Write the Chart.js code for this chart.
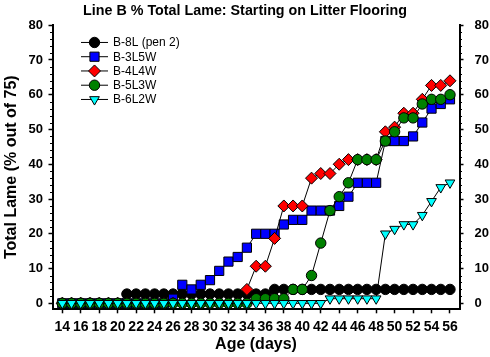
<!DOCTYPE html>
<html>
<head>
<meta charset="utf-8">
<script src="https://cdn.jsdelivr.net/npm/chart.js@4.4.1/dist/chart.umd.min.js"></script>
<style>
  html, body { margin: 0; padding: 0; background: #fff; }
  #wrap { width: 490px; height: 357px; position: relative; }
</style>
</head>
<body>
<div id="wrap"><canvas id="lameChart"></canvas></div>
<script>
// age in days, one reading per day
const days = [14, 15, 16, 17, 18, 19, 20, 21, 22, 23, 24, 25, 26, 27, 28, 29, 30, 31, 32, 33, 34, 35,
  36, 37, 38, 39, 40, 41, 42, 43, 44, 45, 46, 47, 48, 49, 50, 51, 52, 53, 54, 55, 56];

const xTickLabels = [14, 16, 18, 20, 22, 24, 26, 28, 30, 32, 34, 36, 38, 40, 42, 44, 46, 48, 50, 52, 54, 56];
const yTickLabels = [0, 10, 20, 30, 40, 50, 60, 70, 80];

// % lame (out of 75 birds)
const b8L = [0, 0, 0, 0, 0, 0, 0,
  2.67, 2.67, 2.67, 2.67, 2.67, 2.67, 2.67, 2.67, 2.67, 2.67, 2.67, 2.67, 2.67, 2.67, 2.67, 2.67,
  4, 4, 4, 4, 4, 4, 4, 4, 4, 4, 4, 4, 4, 4, 4, 4, 4, 4, 4, 4];

const b3L5W = [0, 0, 0, 0, 0, 0, 0, 0, 0, 0, 0, 0,
  1.33, 5.33, 4, 5.33, 6.67, 9.33, 12, 13.33, 16, 20, 20, 20, 22.67, 24, 24, 26.67, 26.67, 26.67,
  28, 30.67, 34.67, 34.67, 34.67, 46.67, 46.67, 46.67, 48, 52, 56, 57.33, 58.67];

const b4L4W = [0, 0, 0, 0, 0, 0, 0, 0, 0, 0, 0, 0, 0, 0, 0, 0, 0, 0, 0, 0,
  4, 10.67, 10.67, 18.67, 28, 28, 28, 36, 37.33, 37.33, 40, 41.33, 41.33, 41.33, 41.33,
  49.33, 50.67, 54.67, 54.67, 58.67, 62.67, 62.67, 64];

const b5L3W = [0, 0, 0, 0, 0, 0, 0, 0, 0, 0, 0, 0, 0, 0, 0, 0, 0, 0, 0, 0, 0,
  1.33, 1.33, 1.33, 1.33, 4, 4, 8, 17.33, 26.67, 30.67, 34.67, 41.33, 41.33, 41.33,
  46.67, 49.33, 53.33, 53.33, 57.33, 58.67, 58.67, 60];

const b6L2W = [0, 0, 0, 0, 0, 0, 0, 0, 0, 0, 0, 0, 0, 0, 0, 0, 0, 0, 0, 0, 0, 0, 0, 0, 0, 0, 0, 0, 0,
  1.33, 1.33, 1.33, 1.33, 1.33, 1.33,
  20, 21.33, 22.67, 22.67, 25.33, 29.33, 33.33, 34.67];

const toPoints = (vals) => days.map((d, i) => ({ x: d, y: vals[i] }));

Chart.defaults.font.family = "'Liberation Sans', Arial, sans-serif";
Chart.defaults.color = "#000";

function series(label, vals, color, style, radius, order, rotation) {
  return {
    label: label,
    data: toPoints(vals),
    borderColor: "#000",
    borderWidth: 1,
    backgroundColor: color,
    pointBackgroundColor: color,
    pointBorderColor: "#000",
    pointBorderWidth: 1,
    pointStyle: style,
    pointRadius: radius,
    pointRotation: rotation || 0,
    pointHoverRadius: radius,
    tension: 0,
    clip: false,
    order: order
  };
}

/* minor ticks + inset legend */
const extrasPlugin = {
  id: "extras",
  afterDraw(chart) {
    const ctx = chart.ctx;
    const area = chart.chartArea;
    ctx.save();

    ctx.strokeStyle = "#000";
    ctx.lineWidth = 1;
    ["y", "y2"].forEach((id) => {
      const s = chart.scales[id];
      const x0 = id === "y" ? area.left : area.right;
      const dir = id === "y" ? -1 : 1;
      for (let v = 2; v < 80; v += 2) {
        if (v % 10 === 0) continue;
        const py = Math.round(s.getPixelForValue(v)) + 0.5;
        ctx.beginPath();
        ctx.moveTo(x0, py);
        ctx.lineTo(x0 + dir * 2.5, py);
        ctx.stroke();
      }
    });

    const lx = area.left + 28.5;
    const ly = area.top + 17.3;
    ctx.font = "12px 'Liberation Sans', Arial, sans-serif";
    ctx.textBaseline = "middle";
    ctx.textAlign = "left";
    chart.data.datasets.forEach((ds, i) => {
      const y = ly + i * 14.25;
      ctx.strokeStyle = "#000";
      ctx.lineWidth = 1;
      ctx.beginPath();
      ctx.moveTo(lx, y);
      ctx.lineTo(lx + 27, y);
      ctx.stroke();
      ctx.fillStyle = ds.pointBackgroundColor;
      ctx.strokeStyle = "#000";
      Chart.helpers.drawPoint(ctx, {
        pointStyle: ds.pointStyle,
        radius: ds.pointRadius,
        rotation: ds.pointRotation,
        borderWidth: 1
      }, lx + 13.5, y);
      ctx.fillStyle = "#000";
      ctx.fillText(ds.label, lx + 32, y + 0.5);
    });

    ctx.restore();
  }
};

const ctx = document.getElementById("lameChart").getContext("2d");

new Chart(ctx, {
  type: "line",
  data: {
    datasets: [
      series("B-8L (pen 2)", b8L, "#000000", "circle", 5.2, 5),
      series("B-3L5W", b3L5W, "#0000ff", "rect", 6.5, 4),
      series("B-4L4W", b4L4W, "#ff0000", "rectRot", 6, 3),
      series("B-5L3W", b5L3W, "#008000", "circle", 5.2, 2),
      series("B-6L2W", b6L2W, "#00ffff", "triangle", 5.6, 1, 180)
    ]
  },
  options: {
    responsive: true,
    maintainAspectRatio: false,
    animation: false,
    layout: { padding: 0 },
    plugins: {
      legend: { display: false },
      tooltip: { enabled: false },
      title: {
        display: true,
        text: "Line B % Total Lame: Starting on Litter Flooring",
        font: { size: 14.3, weight: "bold" },
        color: "#000",
        padding: { top: 2.5, bottom: 5.5 }
      }
    },
    scales: {
      x: {
        type: "linear",
        min: 12.94,
        max: 57.03,
        afterBuildTicks: (s) => { s.ticks = xTickLabels.map((v) => ({ value: v })); },
        afterFit: (s) => { s.height = 47.7; },
        grid: { drawOnChartArea: false, drawTicks: true, tickLength: 4, tickWidth: 1.5, tickColor: "#000" },
        border: { display: true, color: "#000", width: 2 },
        ticks: { autoSkip: false, maxRotation: 0, minRotation: 0, padding: 5, color: "#000",
          font: { size: 14, weight: "bold" } },
        title: { display: true, text: "Age (days)", color: "#000",
          font: { size: 16, weight: "bold" }, padding: { top: 0, bottom: 2.4 } }
      },
      y: {
        type: "linear",
        position: "left",
        min: -1.72,
        max: 80,
        afterBuildTicks: (s) => { s.ticks = yTickLabels.map((v) => ({ value: v })); },
        afterFit: (s) => { s.width = 52.5; },
        grid: { drawOnChartArea: false, drawTicks: true, tickLength: 4, tickWidth: 1.5, tickColor: "#000" },
        border: { display: true, color: "#000", width: 2 },
        ticks: { padding: 5.5, color: "#000", font: { size: 13, weight: "bold" } },
        title: { display: true, text: "Total Lame (% out of 75)", color: "#000",
          font: { size: 16, weight: "bold" }, padding: { top: 2.4, bottom: 0 } }
      },
      y2: {
        type: "linear",
        position: "right",
        min: -1.72,
        max: 80,
        afterBuildTicks: (s) => { s.ticks = yTickLabels.map((v) => ({ value: v })); },
        afterFit: (s) => { s.width = 30.5; },
        grid: { drawOnChartArea: false, drawTicks: true, tickLength: 4, tickWidth: 1.5, tickColor: "#000" },
        border: { display: true, color: "#000", width: 2 },
        ticks: { padding: 11, color: "#000", font: { size: 13, weight: "bold" } }
      }
    }
  },
  plugins: [extrasPlugin]
});
</script>
</body>
</html>
